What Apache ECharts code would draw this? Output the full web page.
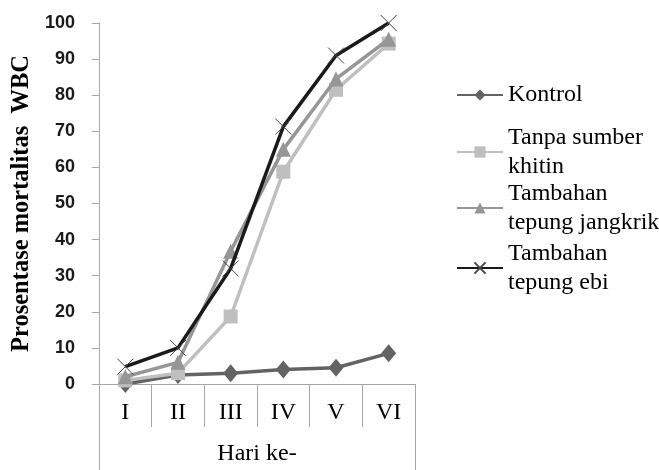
<!DOCTYPE html>
<html>
<head>
<meta charset="utf-8">
<script src="https://cdn.jsdelivr.net/npm/echarts@6/dist/echarts.min.js"></script>
<style>
html,body{margin:0;padding:0;background:#fff;}
#chart{width:659px;height:470px;}
</style>
</head>
<body>
<div id="chart"></div>
<script>
const categories = ['I', 'II', 'III', 'IV', 'V', 'VI'];
const kontrol = [0, 2.5, 3, 4, 4.5, 8.5];
const tanpaSumberKhitin = [1, 3, 18.7, 58.8, 81.5, 94.3];
const tepungJangkrik = [2, 6, 36.8, 65, 84.5, 95.5];
const tepungEbi = [4.8, 10, 32, 71.3, 91, 100];
const yTicks = [0, 10, 20, 30, 40, 50, 60, 70, 80, 90, 100];
const xTitle = 'Hari ke-';
const yTitle = 'Prosentase mortalitas  WBC';
const seriesNames = ['Kontrol', 'Tanpa sumber khitin', 'Tambahan tepung jangkrik', 'Tambahan tepung ebi'];
const legendLabels = ['Kontrol', 'Tanpa sumber\nkhitin', 'Tambahan\ntepung jangkrik', 'Tambahan\ntepung ebi'];

const axisGrey = '#a6a6a6';
const serif = '"Liberation Serif", "DejaVu Serif", serif';
const colors = ['#636363', '#bfbfbf', '#969696', '#1a1a1a'];
const xPath = 'path://M0,0L10,10M10,0L0,10';

const chart = echarts.init(document.getElementById('chart'), null, {renderer: 'canvas'});

function mkSeries(i, data, symbol, size, extra) {
  return Object.assign({
    name: seriesNames[i],
    type: 'line',
    data: data,
    symbol: symbol,
    symbolSize: size,
    showSymbol: true,
    lineStyle: {color: colors[i], width: 3.5},
    itemStyle: {color: colors[i]},
    emphasis: {disabled: true},
    z: 2 + i
  }, extra || {});
}

const lh = 29;
function mkLegend(i, centerY, twoLine) {
  return {
    data: [seriesNames[i]],
    left: 456,
    top: twoLine ? centerY - 1.5 * lh : centerY - lh / 2,
    padding: 0,
    itemWidth: 46,
    itemHeight: 14,
    itemGap: 0,
    formatter: function () { return legendLabels[i]; },
    textStyle: {
      fontFamily: serif, fontSize: 24, color: '#000', lineHeight: lh,
      padding: twoLine ? [lh, 0, 0, 0] : 0
    }
  };
}

chart.setOption({
  animation: false,
  backgroundColor: '#fff',
  grid: {left: 99, right: 244, top: 23, bottom: 86, containLabel: false},
  legend: [
    mkLegend(0, 95, false),
    mkLegend(1, 152, true),
    mkLegend(2, 208, true),
    mkLegend(3, 268, true)
  ],
  xAxis: [
    {
      type: 'category',
      data: categories,
      boundaryGap: true,
      axisLine: {show: true, lineStyle: {color: axisGrey, width: 1}},
      axisTick: {show: true, interval: 0, length: 43, lineStyle: {color: axisGrey}},
      axisLabel: {interval: 0, margin: 17, fontFamily: serif, fontSize: 24, color: '#000'},
      splitLine: {show: false}
    },
    {
      type: 'category',
      data: [xTitle],
      position: 'bottom',
      boundaryGap: true,
      axisLine: {show: false},
      axisTick: {show: true, interval: 0, length: 86, lineStyle: {color: axisGrey}},
      axisLabel: {interval: 0, margin: 58, fontFamily: serif, fontSize: 24, color: '#000'},
      splitLine: {show: false}
    }
  ],
  yAxis: {
    type: 'value',
    min: yTicks[0],
    max: yTicks[yTicks.length - 1],
    interval: 10,
    name: yTitle,
    nameLocation: 'middle',
    nameGap: 65,
    nameRotate: 90,
    nameTextStyle: {fontFamily: serif, fontSize: 24.5, fontWeight: 'bold', color: '#000'},
    axisLine: {show: true, lineStyle: {color: axisGrey, width: 1}},
    axisTick: {show: true, length: 7, lineStyle: {color: axisGrey}},
    axisLabel: {margin: 24, fontFamily: '"Liberation Sans", Arial, sans-serif', fontWeight: 'bold', fontSize: 18, color: '#1a1a1a'},
    splitLine: {show: false}
  },
  series: [
    mkSeries(0, kontrol, 'diamond', [15, 18]),
    mkSeries(1, tanpaSumberKhitin, 'rect', 14),
    mkSeries(2, tepungJangkrik, 'triangle', 15),
    mkSeries(3, tepungEbi, xPath, 16, {
      itemStyle: {color: 'none', borderColor: '#444', borderWidth: 1}
    })
  ]
});
</script>
</body>
</html>
